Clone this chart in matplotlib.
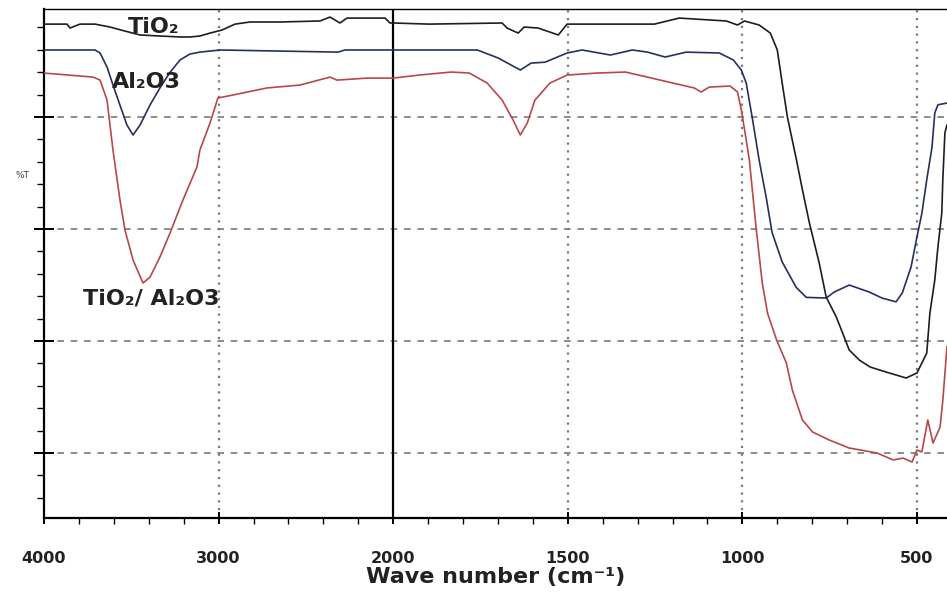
import numpy as np
import matplotlib
matplotlib.use("Agg")
import matplotlib.pyplot as plt
from matplotlib.ticker import FixedLocator, NullFormatter

# ---------------- data (wavenumber cm-1, %T arbitrary units) ----------------
tio2_w = [4000, 3868, 3851, 3822, 3794, 3708, 3622, 3536, 3450, 3336, 3221, 3164, 3107,
          3049, 2981, 2906, 2820, 2648, 2419, 2362, 2305, 2265, 2047, 2018, 2000, 1897,
          1688, 1674, 1642, 1625, 1585, 1527, 1502, 1252, 1181, 1046, 1014, 994, 952,
          920, 900, 886, 871, 845, 828, 808, 780, 760, 731, 694, 665, 634, 588, 531,
          500, 472, 463, 449, 440, 429, 426, 420, 414]
tio2_t = [48.3, 48.3, 47.95, 48.13, 48.3, 48.3, 48.04, 47.68, 47.33, 47.24, 47.15, 47.15, 47.24,
          47.5, 47.77, 48.3, 48.49, 48.49, 48.58, 48.93, 48.4, 48.84, 48.84, 48.4, 48.4, 48.3,
          48.4, 47.95, 47.5, 48.04, 47.95, 47.33, 48.3, 48.3, 48.84, 48.58, 48.22, 48.58, 48.22,
          47.5, 45.99, 43.04, 40.0, 36.16, 33.5, 30.54, 26.97, 23.93, 22.15, 19.2, 18.3, 17.68, 17.23, 16.7,
          17.15, 18.93, 22.5, 25.45, 28.4, 31.4, 34.4, 38.6, 39.3]

al2o3_w = [4000, 3708, 3679, 3639, 3605, 3565, 3525, 3490, 3450, 3393, 3336, 3278, 3221,
           3164, 3107, 2992, 2316, 2276, 2000, 1759, 1699, 1636, 1605, 1565, 1502, 1459,
           1378, 1315, 1272, 1221, 1161, 1066, 1026, 1003, 989, 972, 952, 932, 915, 886,
           846, 817, 760, 737, 694, 637, 600, 560, 542, 517, 500, 486, 472, 457, 449, 440, 414]
al2o3_t = [45.99, 45.99, 45.72, 44.47, 42.86, 41.07, 39.29, 38.4, 39.29, 41.07, 42.6, 44.0, 45.1,
           45.63, 45.8, 45.99, 45.8, 45.99, 45.99, 45.99, 45.27, 44.2, 44.82, 44.9, 45.72, 45.99,
           45.54, 45.99, 45.8, 45.36, 45.8, 45.72, 45.1, 44.2, 43.04, 40.0, 36.16, 32.86, 29.7, 27.06,
           24.8, 23.9, 23.84, 24.38, 25.0, 24.38, 23.84, 23.5, 24.3, 26.6, 29.3, 31.4, 34.4, 37.3, 40.36, 41.1, 41.25]

mix_w = [4000, 3719, 3679, 3639, 3605, 3565, 3536, 3490, 3433, 3393, 3336, 3278, 3204,
         3124, 3107, 3049, 3004, 2918, 2723, 2534, 2362, 2322, 2150, 2000, 1926, 1834,
         1782, 1731, 1688, 1656, 1636, 1616, 1594, 1551, 1502, 1418, 1335, 1272, 1212,
         1138, 1118, 1095, 1035, 1014, 1003, 989, 980, 960, 943, 928, 902, 874, 857, 828,
         799, 751, 694, 614, 568, 540, 514, 500, 486, 469, 454, 434, 426, 414]
mix_t = [43.93, 43.57, 43.3, 41.52, 37.06, 32.6, 29.9, 27.24, 25.18, 25.7, 27.5, 29.65, 32.6,
         35.54, 37.06, 39.47, 41.7, 41.97, 42.6, 42.86, 43.57, 43.3, 43.48, 43.48, 43.75, 44.02,
         43.93, 43.04, 41.52, 39.7, 38.4, 39.47, 41.52, 43.04, 43.75, 43.93, 44.02, 43.57, 43.13,
         42.6, 42.24, 42.68, 42.77, 42.24, 40.63, 37.95, 36.16, 29.9, 25.18, 22.5, 20.09, 18.04, 15.63, 12.95,
         11.88, 11.16, 10.45, 10.0, 9.38, 9.55, 9.2, 10.27, 10.1, 12.95, 10.9, 12.3, 14.7, 19.5]

major_x = [4000, 3000, 2000, 1500, 1000, 500]
major_x_labels = ["4000", "3000", "2000", "1500", "1000", "500"]
dotted_x = [3000, 1500, 1000, 500]
major_y = [10, 20, 30, 40]

# ---------------- scale: 1000 cm-1 per unit above 2000, 500 cm-1 per unit below --------
def fwd(w):
    w = np.asarray(w, dtype=float)
    return np.where(w >= 2000, (w - 4000) / 1000.0, -2 - (2000 - w) / 500.0)

def inv(q):
    q = np.asarray(q, dtype=float)
    return np.where(q >= -2, 4000 + 1000.0 * q, 2000 + 500.0 * (q + 2))

fig = plt.figure(figsize=(9.47, 5.95), dpi=100)
ax = fig.add_axes([44 / 947, 1 - 518 / 595, (947 - 44) / 947, (518 - 9) / 595])
ax.set_xscale('function', functions=(fwd, inv))
ax.set_xlim(4000, 414)
ax.set_ylim(4.2, 49.65)

# grid
for yv in major_y:
    ax.axhline(yv, color='#7a7a7a', lw=1.2, ls=(0, (4, 4)), zorder=1)
for xv in dotted_x:
    ax.axvline(xv, color='#7a7a7a', lw=1.6, ls=(0, (1, 2.5)), zorder=1)
ax.axvline(2000, color='black', lw=1.6, zorder=1)

# curves
ax.plot(tio2_w, tio2_t, color='#1e1e1e', lw=1.2, zorder=3)
ax.plot(al2o3_w, al2o3_t, color='#26305e', lw=1.2, zorder=3)
ax.plot(mix_w, mix_t, color='#b8474c', lw=1.2, zorder=3)

# labels on curves
fam = ['DejaVu Sans']
ax.text(3370, 48.0, "TiO₂", ha='center', va='center', fontsize=16, fontweight='bold',
        family=fam, color='#222222', zorder=4)
ax.text(3416, 43.1, "Al₂O3", ha='center', va='center', fontsize=16, fontweight='bold',
        family=fam, color='#222222', zorder=4)
ax.text(3387, 23.8, "TiO₂/ Al₂O3", ha='center', va='center', fontsize=16, fontweight='bold',
        family=fam, color='#222222', zorder=4)

# spines
ax.spines['right'].set_visible(False)
ax.spines['left'].set_linewidth(1.6)
ax.spines['bottom'].set_linewidth(1.6)
ax.spines['top'].set_linewidth(1.0)

# ticks
ax.xaxis.set_major_locator(FixedLocator(major_x))
ax.set_xticklabels(major_x_labels)
minor_x = list(range(4000, 2000, -200)) + list(range(2000, 400, -100))
ax.xaxis.set_minor_locator(FixedLocator(minor_x))
ax.xaxis.set_minor_formatter(NullFormatter())
ax.yaxis.set_major_locator(FixedLocator(major_y))
ax.yaxis.set_minor_locator(FixedLocator(list(range(6, 50, 2))))
ax.yaxis.set_major_formatter(NullFormatter())
ax.tick_params(axis='x', which='major', direction='inout', length=9, width=1.4, pad=19)
ax.tick_params(axis='x', which='minor', direction='out', length=4, width=1.0)
ax.tick_params(axis='y', which='major', direction='inout', length=14, width=1.4)
ax.tick_params(axis='y', which='minor', direction='out', length=5, width=1.0)
for lab in ax.get_xticklabels():
    lab.set_fontweight('bold')
    lab.set_fontsize(11.5)
    lab.set_family(fam)
    lab.set_color('#222222')

ax.set_xlabel("Wave number (cm⁻¹)", fontsize=16, fontweight='bold', family=fam,
              color='#222222', labelpad=1)
fig.text(22 / 947, 1 - 175 / 595, "%T", fontsize=6.5, ha='center', va='center', color='#444444')

fig.savefig("out.png", dpi=100)
